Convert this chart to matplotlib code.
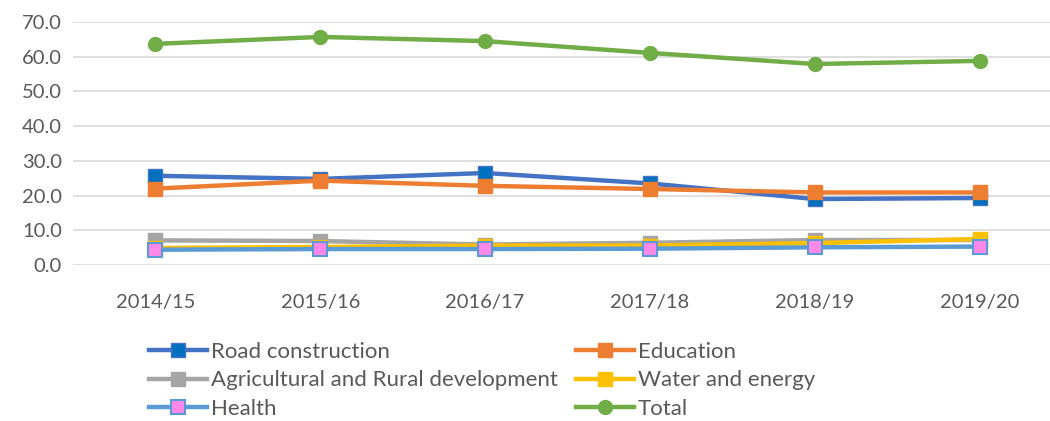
import numpy as np
import matplotlib.pyplot as plt

years = ["2014/15", "2015/16", "2016/17", "2017/18", "2018/19", "2019/20"]
road = [25.7, 24.8, 26.5, 23.5, 19.0, 19.3]
education = [22.0, 24.3, 22.8, 21.9, 20.9, 20.9]
agri = [7.1, 6.9, 5.9, 6.4, 7.2, 7.2]
water = [4.9, 5.2, 5.6, 5.6, 6.3, 7.5]
health = [4.4, 4.6, 4.6, 4.7, 5.1, 5.3]
total = [63.7, 65.7, 64.5, 61.1, 57.9, 58.8]

plt.rcParams['font.family'] = ['Lato', 'DejaVu Sans']
txt = "#595959"

fig = plt.figure(figsize=(10.5, 4.21), dpi=100)
ax = fig.add_axes([73/1050, 156/421, 989/1050, 243/421])
x = np.arange(len(years))

lw = 3.2
ms = 10
l1, = ax.plot(x, road, "-", color="#4472C4", lw=lw, marker="s", ms=ms,
              mfc="#0070C0", mec="#4472C4", label="Road construction", zorder=4)
l2, = ax.plot(x, education, "-", color="#ED7D31", lw=lw, marker="s", ms=ms,
              mfc="#ED7D31", mec="#ED7D31", label="Education", zorder=5)
l3, = ax.plot(x, agri, "-", color="#A5A5A5", lw=lw, marker="s", ms=ms,
              mfc="#A5A5A5", mec="#A5A5A5", label="Agricultural and Rural development", zorder=3)
l4, = ax.plot(x, water, "-", color="#FFC000", lw=lw, marker="s", ms=ms,
              mfc="#FFC000", mec="#FFC000", label="Water and energy", zorder=3.5)
l5, = ax.plot(x, health, "-", color="#5B9BD5", lw=lw, marker="s", ms=ms,
              mfc="#FF88E8", mec="#5B9BD5", mew=1.5, label="Health", zorder=4)
l6, = ax.plot(x, total, "-", color="#70AD47", lw=lw, marker="o", ms=ms,
              mfc="#70AD47", mec="#70AD47", label="Total", zorder=4)

ax.set_xlim(-0.5, len(years) - 0.5)
ax.set_ylim(0, 70)
ax.set_yticks(np.arange(0, 71, 10))
ax.set_yticklabels([f"{v:.1f}" for v in np.arange(0, 71, 10)])
ax.set_xticks(x)
ax.set_xticklabels(years)
ax.grid(axis="y", color="#D9D9D9", lw=1.2)
ax.set_axisbelow(True)
for s in ax.spines.values():
    s.set_visible(False)
ax.tick_params(length=0, labelsize=14.5, colors=txt, pad=8)
ax.tick_params(axis="x", pad=21)

kw = dict(loc="upper left", frameon=False, fontsize=16, handlelength=2.6,
          handletextpad=0.2, labelspacing=0.38, borderaxespad=0, labelcolor=txt)
leg1 = fig.legend([l1, l3, l5], [l.get_label() for l in (l1, l3, l5)],
                  bbox_to_anchor=(140/1050, 1 - 333/421), **kw)
leg2 = fig.legend([l2, l4, l6], [l.get_label() for l in (l2, l4, l6)],
                  bbox_to_anchor=(567/1050, 1 - 333/421), **kw)

plt.savefig("out.png", dpi=100)
